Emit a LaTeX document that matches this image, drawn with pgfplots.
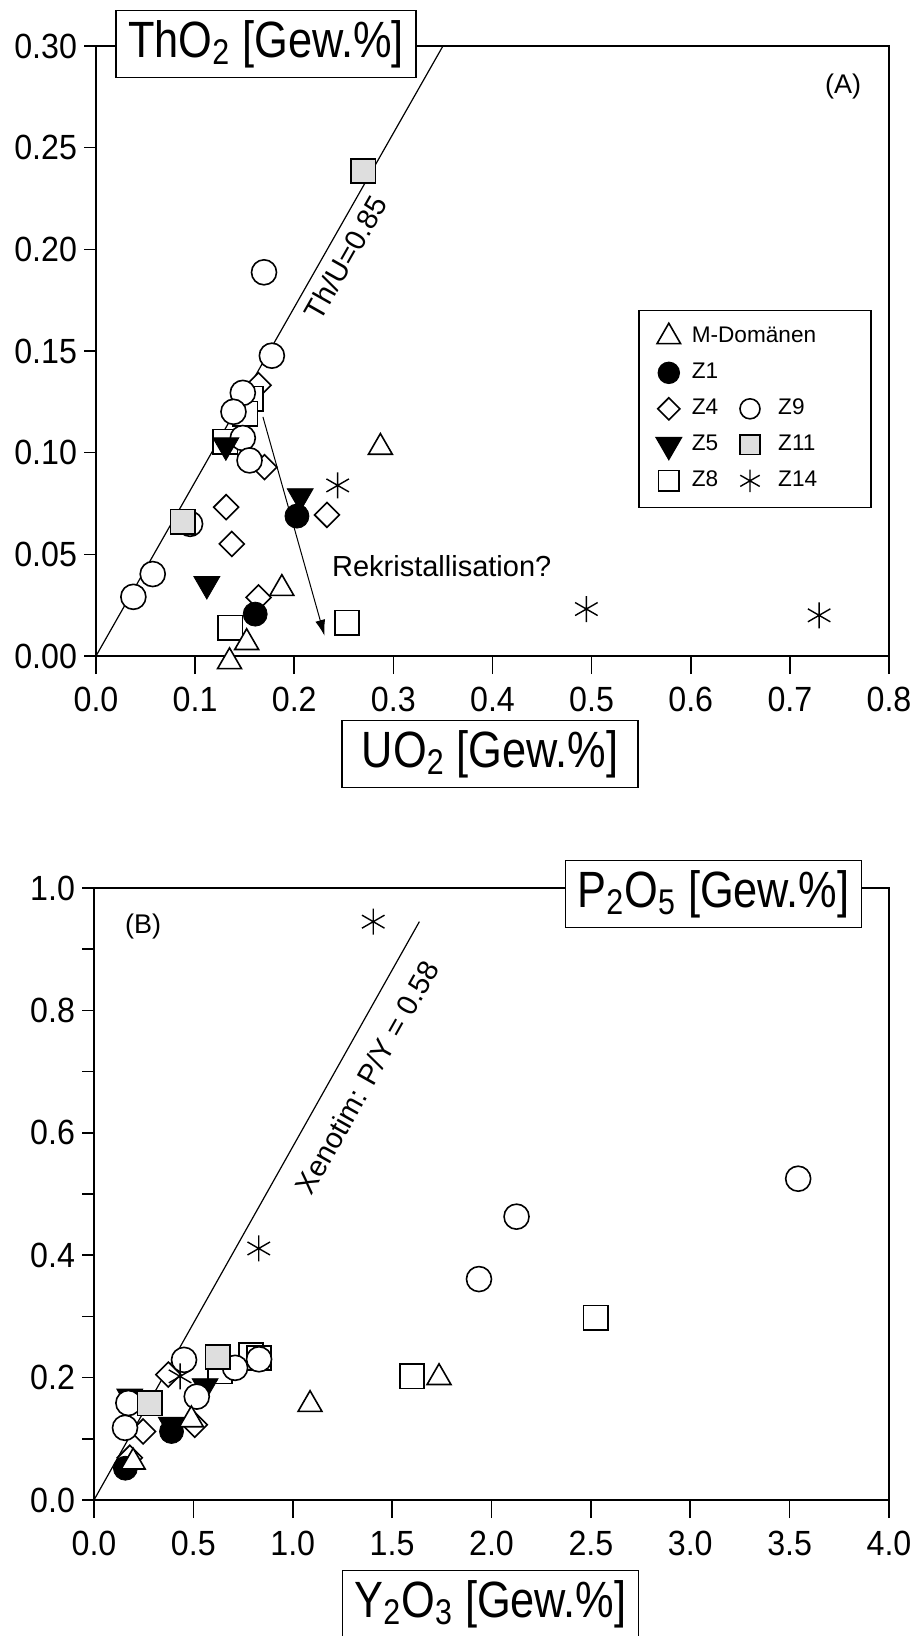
\documentclass[border=0pt]{standalone}
\usepackage{fontspec}
\setmainfont{Liberation Sans}
\newfontfamily\tickfont{Liberation Sans}[FakeStretch=0.92]
\newfontfamily\labfont{Liberation Sans}[FakeStretch=0.85]
\usepackage{pgfplots}
\pgfplotsset{compat=1.18}
\usetikzlibrary{arrows.meta}
\definecolor{lgray}{gray}{0.87}

\pgfplotsset{
  mystyle/.style={
    scale only axis,
    axis line style={line width=1.4pt},
    tick style={line width=0.8pt, black},
    tick align=outside,
    xtick pos=bottom, ytick pos=left,
    major tick length=6pt,
    minor tick length=6pt,
    xtick style={/pgfplots/major tick length=9pt},
    clip=false,
    tick label style={font=\tickfont\fontsize{17.5}{20}\selectfont},
    xticklabel style={yshift=-6pt},
    /pgf/number format/assume math mode=true,
    /pgf/number format/fixed,
    /pgf/number format/fixed zerofill,
  },
  mdom/.style={only marks, mark=triangle*, mark size=6.9pt, mark options={fill=white, draw=black, line width=0.8pt}},
  zone/.style={only marks, mark=*, mark size=6pt, mark options={fill=black, draw=black}},
  zfour/.style={only marks, mark=square*, mark size=4.4pt, mark options={fill=white, draw=black, line width=0.8pt, rotate=45}},
  zfive/.style={only marks, mark=triangle*, mark size=7.5pt, mark options={fill=black, draw=black, rotate=180}},
  zeight/.style={only marks, mark=square*, mark size=6.1pt, mark options={fill=white, draw=black, line width=0.8pt}},
  znine/.style={only marks, mark=*, mark size=6.25pt, mark options={fill=white, draw=black, line width=0.8pt}},
  zeleven/.style={only marks, mark=square*, mark size=6.1pt, mark options={fill=lgray, draw=black, line width=0.8pt}},
  zfourteen/.style={only marks, mark=asterisk, mark size=6.5pt, mark options={draw=black, line width=0.7pt}},
  lim/.style={legend image code/.code={\path[draw=none, fill=none] (0pt,-4pt) rectangle (19pt,4pt); \draw[##1] plot coordinates {(9.5pt,0pt)};}},
}
\newcommand{\ctwo}[1]{\hspace{2.6pt}\makebox[39pt][l]{#1}}

\begin{document}
\begin{tikzpicture}
\path[use as bounding box] (0,0) rectangle (459.5pt,-818pt);

% ---------------- Panel A ----------------
\begin{axis}[mystyle,
  at={(48pt,-328pt)}, anchor=south west,
  width=396.5pt, height=305pt,
  xmin=0, xmax=0.8, ymin=0, ymax=0.3,
  xtick={0,0.1,0.2,0.3,0.4,0.5,0.6,0.7,0.8},
  ytick={0,0.05,0.1,0.15,0.2,0.25,0.3},
  xticklabel style={/pgf/number format/precision=1},
  yticklabel style={/pgf/number format/precision=2},
  legend columns=2,
  legend cell align=left,
  legend style={at={(rel axis cs:0.6835,0.568)}, anchor=north west,
    draw=black, line width=0.8pt,
    font=\fontsize{11.3}{13}\selectfont,
    nodes={inner sep=2pt, text height=8pt, text depth=2.5pt},
    /tikz/every even column/.append style={column sep=4.4pt},
    row sep=3.5pt, inner xsep=5.5pt, inner ysep=6pt},
]
\addplot[black, line width=0.6pt, forget plot] coordinates {(0,0) (0.35,0.3)};

\addplot[zfour, forget plot] coordinates {(0.164,0.1332) (0.170,0.0929) (0.233,0.0694) (0.1313,0.0732) (0.137,0.0551) (0.164,0.0288)};
\addplot[zeight, forget plot] coordinates {(0.1562,0.1266) (0.1505,0.1192) (0.1303,0.1053) (0.1354,0.0140) (0.2532,0.0164)};
\addplot[znine, forget plot] coordinates {(0.1774,0.1477) (0.1695,0.1887) (0.1481,0.1294) (0.1387,0.1201) (0.1481,0.1072) (0.1549,0.0962) (0.0949,0.0650) (0.0572,0.0403) (0.0377,0.0291)};
\addplot[zfive, forget plot] coordinates {(0.131,0.1036) (0.206,0.0786) (0.1118,0.0354)};
\addplot[zone, forget plot] coordinates {(0.2027,0.0688) (0.1606,0.0206)};
\addplot[mdom, forget plot] coordinates {(0.2869,0.1026) (0.1875,0.0332) (0.152,0.0066) (0.1347,-0.0028)};
\addplot[zeleven, forget plot] coordinates {(0.0875,0.0661) (0.2695,0.2385)};
\addplot[zfourteen, forget plot] coordinates {(0.2438,0.0839) (0.4947,0.0231) (0.7295,0.0200)};

\draw[-{Latex[length=8pt,width=5pt]}, line width=0.5pt] (axis cs:0.1684,0.1176) -- (axis cs:0.2306,0.0099);
\node[rotate=60.4, font=\fontsize{14.5}{16}\selectfont] at (axis cs:0.2518,0.1958) {Th/U=0.85};
\node[anchor=west, inner sep=0pt, font=\fontsize{14.5}{16}\selectfont] at (axis cs:0.2378,0.0442) {Rekristallisation?};
\node[font=\fontsize{13.5}{16}\selectfont] at (axis cs:0.7538,0.2803) {(A)};

\addlegendimage{mdom, mark size=6.8pt, lim}\addlegendentry{\makebox[0pt][l]{M-Domänen}}
\addlegendimage{empty legend}\addlegendentry{}
\addlegendimage{zone, mark size=5.2pt, lim}\addlegendentry{Z1}
\addlegendimage{empty legend}\addlegendentry{}
\addlegendimage{zfour, mark size=3.9pt, lim}\addlegendentry{Z4}
\addlegendimage{znine, mark size=5pt, lim}\addlegendentry{\ctwo{Z9}}
\addlegendimage{zfive, mark size=7.2pt, lim}\addlegendentry{Z5}
\addlegendimage{zeleven, mark size=4.9pt, lim}\addlegendentry{\ctwo{Z11}}
\addlegendimage{zeight, mark size=5.2pt, lim}\addlegendentry{Z8}
\addlegendimage{zfourteen, mark size=5.6pt, lim}\addlegendentry{\ctwo{Z14}}
\end{axis}

% ---------------- Panel B ----------------
\begin{axis}[mystyle,
  at={(47pt,-750pt)}, anchor=south west,
  width=397.5pt, height=306pt,
  xmin=0, xmax=4, ymin=0, ymax=1,
  xtick={0,0.5,1,1.5,2,2.5,3,3.5,4},
  ytick={0,0.1,0.2,0.3,0.4,0.5,0.6,0.7,0.8,0.9,1},
  yticklabels={0.0,{},0.2,{},0.4,{},0.6,{},0.8,{},1.0},
  xticklabel style={/pgf/number format/precision=1},
]
\addplot[black, line width=0.6pt, forget plot] coordinates {(0,0) (1.637,0.945)};

\addplot[zfour, forget plot] coordinates {(0.374,0.205) (0.18,0.069) (0.247,0.112) (0.507,0.123)};
\addplot[zeight, forget plot] coordinates {(0.79,0.237) (0.83,0.232) (0.634,0.21) (1.60,0.202) (2.525,0.298)};
\addplot[zfive, forget plot] coordinates {(0.559,0.186) (0.18,0.169) (0.389,0.123)};
\addplot[znine, forget plot] coordinates {(3.543,0.525) (2.126,0.463) (1.937,0.361) (0.453,0.229) (0.8305,0.230) (0.71,0.216) (0.517,0.169) (0.173,0.1585) (0.156,0.118)};
\addplot[zone, forget plot] coordinates {(0.158,0.052) (0.39,0.112)};
\addplot[mdom, forget plot] coordinates {(0.197,0.062) (0.49,0.131) (1.087,0.156) (1.736,0.20)};
\addplot[zeleven, forget plot] coordinates {(0.623,0.2336) (0.28,0.158)};
\addplot[zfourteen, forget plot] coordinates {(1.405,0.945) (0.829,0.411) (0.433,0.202)};

\node[rotate=60.6, font=\fontsize{14.5}{16}\selectfont] at (axis cs:1.374,0.691) {Xenotim: P/Y = 0.58};
\node[font=\fontsize{13.5}{16}\selectfont] at (axis cs:0.247,0.937) {(B)};
\end{axis}

% ---------------- Axis label boxes ----------------
\tikzset{labbox/.style={draw=black, fill=white, line width=0.8pt, inner xsep=6pt, minimum height=33.5pt,
  font=\labfont\fontsize{25.5}{28}\selectfont}}
\node[labbox] at (133pt,-22pt) {ThO\textsubscript{2} [Gew.\%]};
\node[labbox, minimum width=148pt] at (245pt,-377pt) {UO\textsubscript{2} [Gew.\%]};
\node[labbox] at (356.75pt,-447pt) {P\textsubscript{2}O\textsubscript{5} [Gew.\%]};
\node[labbox, minimum width=148pt] at (245.25pt,-802pt) {Y\textsubscript{2}O\textsubscript{3} [Gew.\%]};
\end{tikzpicture}
\end{document}
